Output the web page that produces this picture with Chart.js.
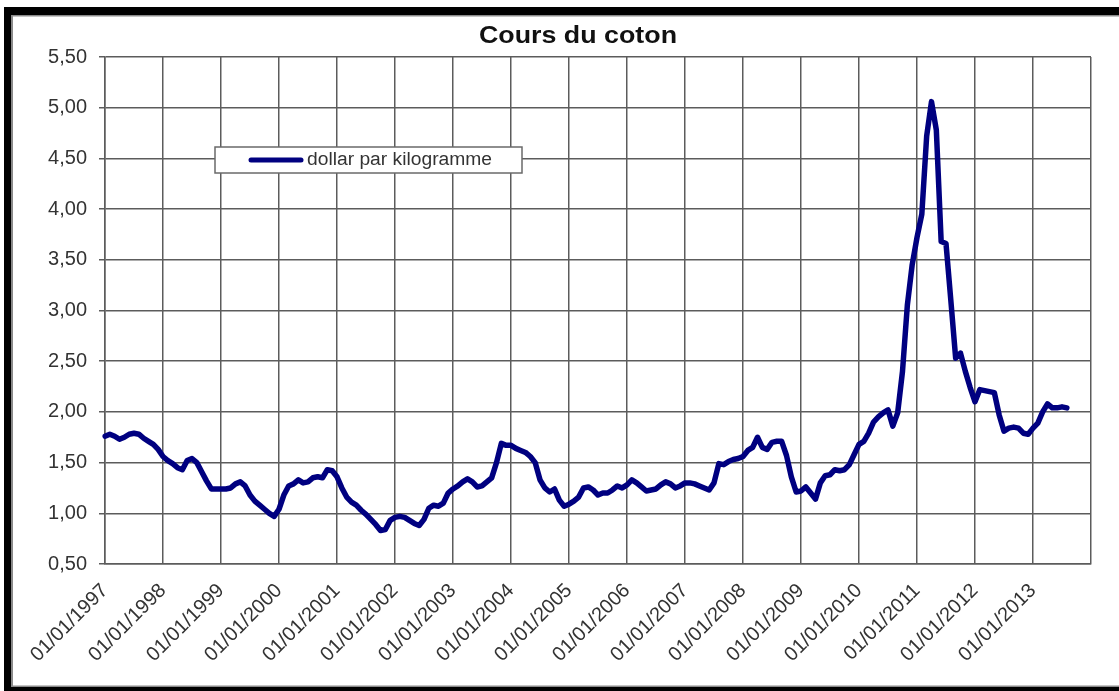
<!DOCTYPE html>
<html>
<head>
<meta charset="utf-8">
<script src="https://cdn.jsdelivr.net/npm/chart.js@4.4.0/dist/chart.umd.min.js"></script>
<style>
  html, body { margin: 0; padding: 0; background: #fff; }
  #wrap { position: absolute; left: 0; top: 0; width: 1119px; height: 691px; }
</style>
</head>
<body>
<div id="wrap"><canvas id="c" width="1119" height="691"></canvas></div>
<script>
// ---- Data ----
const chartTitle = "Cours du coton";
const seriesLabel = "dollar par kilogramme";
const years = [1997,1998,1999,2000,2001,2002,2003,2004,2005,2006,2007,2008,2009,2010,2011,2012,2013,2014];

const v1997 = [1.76,1.78,1.76,1.73,1.75,1.78,1.79,1.78,1.74,1.71,1.68,1.63];
const v1998 = [1.56,1.52,1.49,1.45,1.43,1.52,1.54,1.50,1.41,1.32,1.24,1.24];
const v1999 = [1.24,1.24,1.25,1.29,1.31,1.27,1.18,1.12,1.08,1.04,1.00,0.97];
const v2000 = [1.04,1.18,1.27,1.29,1.33,1.30,1.31,1.35,1.36,1.35,1.43,1.42];
const v2001 = [1.36,1.25,1.16,1.11,1.08,1.03,0.99,0.94,0.89,0.83,0.84,0.93];
const v2002 = [0.96,0.97,0.96,0.93,0.90,0.88,0.94,1.05,1.08,1.07,1.10,1.20];
const v2003 = [1.24,1.27,1.31,1.34,1.31,1.26,1.27,1.31,1.35,1.50,1.69,1.67];
const v2004 = [1.67,1.64,1.62,1.60,1.56,1.50,1.33,1.25,1.21,1.24,1.13,1.07];
const v2005 = [1.09,1.12,1.16,1.25,1.26,1.23,1.18,1.20,1.20,1.23,1.27,1.25];
const v2006 = [1.28,1.33,1.30,1.26,1.22,1.23,1.24,1.28,1.31,1.29,1.25,1.27];
const v2007 = [1.30,1.30,1.29,1.27,1.25,1.23,1.30,1.49,1.48,1.51,1.53,1.54];
const v2008 = [1.56,1.62,1.65,1.75,1.65,1.63,1.70,1.71,1.71,1.57,1.36,1.21];
const v2009 = [1.22,1.26,1.20,1.14,1.30,1.37,1.38,1.43,1.42,1.43,1.48,1.58];
const v2010 = [1.68,1.71,1.79,1.90,1.95,1.99,2.02,1.86,1.99,2.40,3.05,3.45];
const v2011 = [3.72,3.95,4.72,5.06,4.78,3.68,3.66,3.10,2.53,2.58,2.40,2.24];
const v2012 = [2.10,2.22,2.21,2.20,2.19,1.97,1.81,1.84,1.85,1.84,1.79,1.78];
const v2013 = [1.84,1.89,2.00,2.08,2.04,2.04,2.05,2.04];

const values = [].concat(v1997,v1998,v1999,v2000,v2001,v2002,v2003,v2004,v2005,
  v2006,v2007,v2008,v2009,v2010,v2011,v2012,v2013);

// monthly category labels (Jan 1997 .. Jan 2014), dd/mm/yyyy
const categories = [];
years.forEach((y, i) => {
  const nm = (i === years.length - 1) ? 1 : 12;
  for (let m = 1; m <= nm; m++) {
    categories.push('01/' + String(m).padStart(2,'0') + '/' + y);
  }
});
const yTicks = [0.5,1.0,1.5,2.0,2.5,3.0,3.5,4.0,4.5,5.0,5.5];

// ---- Layout helpers ----
const PLOT = { left: 105, top: 57, right: 1091, bottom: 564 };
const GRID = '#5c5c5c';
const LINE = '#000080';
const FONT = '"Liberation Sans", Arial, sans-serif';

const framePlugin = {
  id: 'frame',
  beforeDraw(chart) {
    const ctx = chart.ctx;
    ctx.save();
    ctx.fillStyle = '#ffffff';
    ctx.fillRect(0, 0, chart.width, chart.height);
    ctx.fillStyle = '#000';
    ctx.fillRect(4, 7, 1115, 8);     // top bar
    ctx.fillRect(4, 7, 7, 684);      // left bar
    ctx.fillRect(4, 687, 1115, 4);   // bottom bar
    ctx.fillStyle = '#8a8a8a';
    ctx.fillRect(11, 15, 2, 672);
    ctx.fillRect(11, 15, 1108, 1.5);
    ctx.fillRect(11, 685.5, 1108, 1.5);
    ctx.restore();
  },
  afterDraw(chart) {
    const ctx = chart.ctx;
    ctx.save();
    ctx.font = 'bold 23px ' + FONT;
    ctx.fillStyle = '#111';
    ctx.textBaseline = 'middle';
    const w = ctx.measureText(chartTitle).width;
    ctx.translate(578, 37);
    ctx.scale(198 / w, 1);
    ctx.textAlign = 'center';
    ctx.fillText(chartTitle, 0, 0);
    ctx.restore();

    // legend box
    ctx.save();
    ctx.fillStyle = '#fff';
    ctx.fillRect(215, 147, 307, 26);
    ctx.strokeStyle = '#6a6a6a';
    ctx.lineWidth = 1.5;
    ctx.strokeRect(215, 147, 307, 26);
    const ds = chart.data.datasets[0];
    ctx.strokeStyle = ds.borderColor;
    ctx.lineWidth = 5;
    ctx.lineCap = 'round';
    ctx.beginPath();
    ctx.moveTo(251, 160);
    ctx.lineTo(301, 160);
    ctx.stroke();
    ctx.font = '18px ' + FONT;
    ctx.fillStyle = '#333';
    ctx.textBaseline = 'middle';
    ctx.textAlign = 'left';
    const tw = ctx.measureText(ds.label).width;
    ctx.translate(307, 160.5);
    ctx.scale(185 / tw, 1);
    ctx.fillText(ds.label, 0, 0);
    ctx.restore();
  }
};

new Chart(document.getElementById('c'), {
  type: 'line',
  data: {
    labels: categories,
    datasets: [{
      label: seriesLabel,
      data: values,
      borderColor: LINE,
      backgroundColor: LINE,
      borderWidth: 5.5,
      pointRadius: 0,
      tension: 0,
      borderJoinStyle: 'round',
      borderCapStyle: 'round',
      fill: false
    }]
  },
  options: {
    responsive: false,
    animation: false,
    devicePixelRatio: 1,
    layout: { padding: { left: 0, top: PLOT.top, right: 1119 - PLOT.right, bottom: 0 } },
    plugins: {
      legend: { display: false },
      title: { display: false },
      tooltip: { enabled: false }
    },
    scales: {
      x: {
        type: 'category',
        offset: false,
        afterFit(scale) {
          scale.height = 691 - PLOT.bottom;
          scale.paddingLeft = 0;
          scale.paddingRight = 0;
        },
        grid: {
          color: (c) => (c.index % 12 === 0 ? GRID : 'rgba(0,0,0,0)'),
          lineWidth: 1.5,
          drawTicks: false
        },
        border: { display: true, color: GRID, width: 1.5 },
        ticks: {
          autoSkip: false,
          minRotation: 45,
          maxRotation: 45,
          padding: 15,
          color: '#333',
          font: { family: FONT, size: 20 },
          callback: function (val, idx) {
            return (idx % 12 === 0 && idx < categories.length - 1) ? categories[idx] : '';
          }
        }
      },
      y: {
        min: 0.5,
        max: 5.5,
        afterFit(scale) {
          scale.width = PLOT.left;
          scale.paddingTop = 0;
          scale.paddingBottom = 0;
        },
        afterBuildTicks(scale) { scale.ticks = yTicks.map(v => ({ value: v })); },
        grid: { color: GRID, lineWidth: 1.5, drawTicks: true, tickLength: 6 },
        border: { display: true, color: GRID, width: 1.5 },
        ticks: {
          padding: 12,
          color: '#333',
          font: { family: FONT, size: 20 },
          callback: (v) => Number(v).toFixed(2).replace('.', ',')
        }
      }
    }
  },
  plugins: [framePlugin]
});
</script>
</body>
</html>
